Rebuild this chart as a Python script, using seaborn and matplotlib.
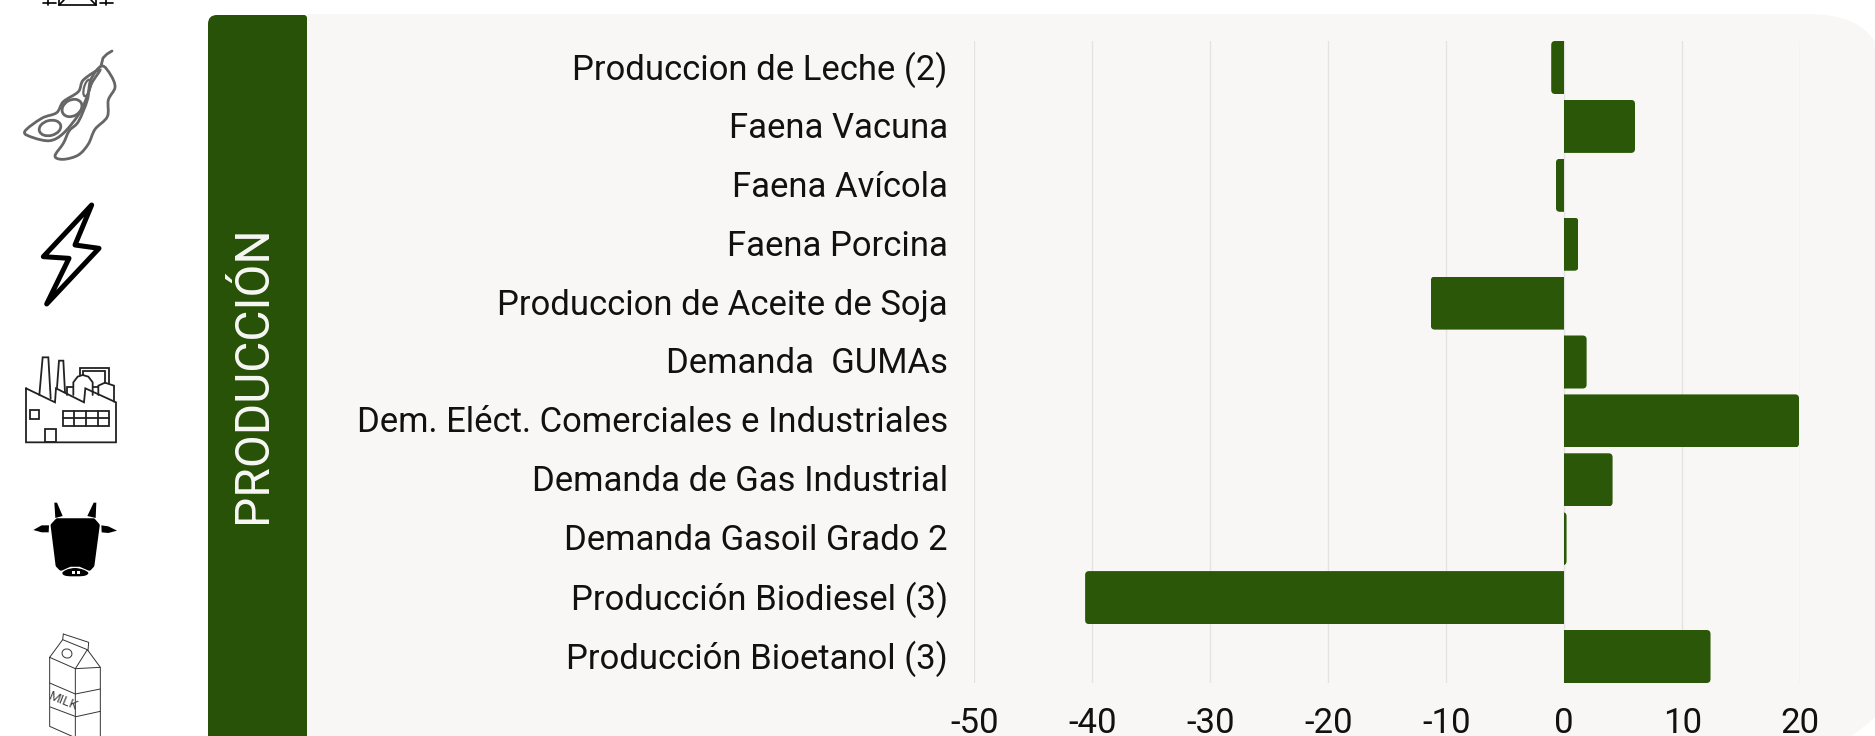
import matplotlib
matplotlib.use("Agg")
import matplotlib.pyplot as plt
import seaborn as sns
from matplotlib.patches import Ellipse, FancyBboxPatch, PathPatch, Polygon, Rectangle
from matplotlib.path import Path
from matplotlib.transforms import ScaledTranslation

# Data
categories = [
    "Produccion de Leche (2)", "Faena Vacuna", "Faena Avícola", "Faena Porcina",
    "Produccion de Aceite de Soja", "Demanda  GUMAs",
    "Dem. Eléct. Comerciales e Industriales", "Demanda de Gas Industrial",
    "Demanda Gasoil Grado 2", "Producción Biodiesel (3)", "Producción Bioetanol (3)",
]
values = [-1.1, 6.0, -0.7, 1.2, -11.3, 1.9, 19.9, 4.1, 0.2, -40.6, 12.4]
x_ticks = [-50, -40, -30, -20, -10, 0, 10, 20]
section_title = "PRODUCCIÓN"

GREEN = "#275207"
BAR = "#2A5708"
PANEL = "#F8F7F5"
W, H = 1875, 736

sns.set_theme(style="white")
plt.rcParams["font.family"] = ["Roboto", "DejaVu Sans"]
plt.rcParams["axes.unicode_minus"] = False

fig = plt.figure(figsize=(W / 100, H / 100), dpi=100, facecolor="white")

# Background layer in pixel coordinates (panel, band, icons)
bg = fig.add_axes([0, 0, 1, 1], zorder=0)
bg.set_xlim(0, W)
bg.set_ylim(H, 0)
bg.axis("off")


def smooth(points):
    # closed Catmull-Rom curve through the outline points
    n = len(points)
    verts = [points[0]]
    codes = [Path.MOVETO]
    for i in range(n):
        p0, p1, p2, p3 = points[i - 1], points[i], points[(i + 1) % n], points[(i + 2) % n]
        c1 = (p1[0] + (p2[0] - p0[0]) / 6, p1[1] + (p2[1] - p0[1]) / 6)
        c2 = (p2[0] - (p3[0] - p1[0]) / 6, p2[1] - (p3[1] - p1[1]) / 6)
        verts += [c1, c2, p2]
        codes += [Path.CURVE4, Path.CURVE4, Path.CURVE4]
    return Path(verts, codes)


def z1(points, dy=0):
    # outlines were measured on 3x crops
    return [(x / 3, y / 3 + dy) for x, y in points]


def lines(segments, color="#222222", lw=1.4):
    for seg in segments:
        bg.plot(*zip(*seg), color=color, lw=lw, solid_capstyle="round", solid_joinstyle="miter")


# Panel with rounded right corners
panel = Path(
    [(307, 14), (1808, 14), (1858, 14), (1875, 42), (1875, 717), (1865, 727), (1851, 736), (307, 736), (307, 14)],
    [Path.MOVETO, Path.LINETO, Path.CURVE3, Path.CURVE3, Path.LINETO, Path.CURVE3, Path.CURVE3, Path.LINETO, Path.CLOSEPOLY],
)
bg.add_patch(PathPatch(panel, fc=PANEL, ec="none"))

# Green band
band = Path(
    [(208, 24), (208, 15), (217, 15), (304, 15), (307, 15), (307, 18), (307, 736), (208, 736), (208, 24)],
    [Path.MOVETO, Path.CURVE3, Path.CURVE3, Path.LINETO, Path.CURVE3, Path.CURVE3, Path.LINETO, Path.LINETO, Path.CLOSEPOLY],
)
bg.add_patch(PathPatch(band, fc=GREEN, ec="none"))
bg.text(253, 374, section_title, rotation=90, ha="center", va="center", color=PANEL,
        fontsize=34.5, fontweight="normal")

# Icon cut off at the top
lines([[(59, 0), (59, 5), (96, 5), (96, 0)], [(59, 5), (64, 0)], [(96, 5), (91, 0)],
       [(43, 3), (56, 3)], [(48, 0), (48, 5)], [(100, 3), (113, 3)], [(106, 0), (106, 5)]], "black", 1.2)

# Soy pod
GREY = "#666666"
pod_right = z1([(305, 198), (332, 225), (345, 262), (325, 300), (322, 350), (285, 388), (265, 432), (235, 465),
                (190, 478), (165, 468), (190, 430), (208, 392), (235, 365), (262, 300), (272, 240)])
pod_left = z1([(300, 208), (250, 240), (235, 275), (190, 305), (170, 338), (125, 355), (74, 395), (100, 413),
               (150, 422), (190, 400), (235, 345), (258, 298), (275, 250)])
bg.add_patch(PathPatch(smooth(pod_right), fc="none", ec=GREY, lw=2.0))
bg.add_patch(PathPatch(smooth(pod_left), fc="none", ec=GREY, lw=2.0))
bg.plot([112, 107, 103, 101], [51, 54, 58, 66], color=GREY, lw=2.0)
bg.add_patch(Ellipse((50, 128), 22, 15, angle=-15, fc="none", ec=GREY, lw=2.0))
bg.add_patch(Ellipse((72, 108), 21, 16, angle=-30, fc="none", ec=GREY, lw=2.0))
bg.add_patch(Ellipse((87, 88), 6, 17, angle=15, fc="none", ec=GREY, lw=1.6))

# Lightning bolt
bolt = z1([(275, 615), (225, 735), (297, 745), (140, 912), (207, 775), (130, 770)])
bg.add_patch(Polygon(bolt, closed=True, fc="none", ec="black", lw=3.6, joinstyle="round"))

# Factory
def fac(points):
    return [(x / 3 + 10, y / 3 + 345) for x, y in points]


lines([fac(s) for s in [
    [(48, 130), (135, 172), (138, 130), (222, 172), (226, 130), (318, 172), (318, 292), (48, 292), (48, 130)],
    [(88, 150), (98, 37), (115, 37), (122, 160)],
    [(141, 128), (147, 47), (160, 47), (165, 142)],
    [(172, 150), (172, 126), (190, 126)],
    [(190, 150), (190, 112), (203, 95), (218, 90), (235, 95), (248, 112), (248, 150)],
    [(210, 90), (210, 68), (298, 68), (298, 115)],
    [(220, 90), (220, 78), (286, 78), (286, 115)],
    [(265, 150), (265, 122), (285, 113), (312, 122), (312, 170)],
    [(250, 125), (265, 125)],
]], "#222222", 1.3)
for rect in [(59, 194, 27, 27), (104, 253, 33, 39), (158, 198, 140, 44)]:
    bg.add_patch(Rectangle((rect[0] / 3 + 10, rect[1] / 3 + 345), rect[2] / 3, rect[3] / 3,
                           fc="none", ec="#222222", lw=1.3))
lines([fac(s) for s in [[(158, 220), (298, 220)], [(193, 198), (193, 242)], [(228, 198), (228, 242)], [(263, 198), (263, 242)]]],
      "#222222", 1.3)

# Cow head
cow_face = z1([(172, 457), (280, 457), (293, 472), (277, 592), (268, 602), (240, 590), (210, 590), (183, 602), (173, 592), (158, 472)], 368)
bg.add_patch(Polygon(cow_face, closed=True, fc="black", ec="black", lw=3.0, joinstyle="round"))
for horn in [[(163, 404), (171, 404), (188, 444), (166, 450)], [(289, 404), (281, 404), (262, 444), (287, 450)],
             [(100, 486), (125, 472), (147, 472), (146, 493), (125, 493)], [(351, 488), (325, 475), (304, 472), (305, 493), (325, 495)]]:
    bg.add_patch(Polygon(z1(horn, 368), closed=True, fc="black", ec="none"))
muzzle = z1([(187, 615), (200, 605), (225, 600), (250, 605), (265, 615), (250, 624), (200, 624)], 368)
bg.add_patch(PathPatch(smooth(muzzle), fc="black", ec="none"))
for nx in [215, 232]:
    bg.add_patch(Rectangle((nx / 3, 608 / 3 + 368), 3, 3, fc="white", ec="none"))

# Milk carton
milk = [
    [(149, 868), (149, 1075), (228, 1110)], [(149, 868), (226, 902), (226, 1110)],
    [(226, 902), (301, 898), (301, 1110)], [(226, 902), (262, 845), (301, 898)],
    [(149, 868), (188, 815), (262, 845)], [(190, 798), (266, 823), (264, 848)],
    [(190, 798), (188, 815)], [(149, 945), (226, 978), (301, 963)], [(151, 1017), (228, 1046), (301, 1030)],
]
lines([z1(s, 368) for s in milk], "#333333", 0.7)
bg.add_patch(Ellipse((67, 653.5), 10, 9, angle=20, fc="none", ec="#333333", lw=0.7))
bg.text(63, 701, "MILK", rotation=-22, rotation_mode="anchor", ha="center", va="center", fontsize=9.5,
        fontweight="normal", color="#444444")

# Chart
ax = fig.add_axes([974.2 / W, 1 - 683 / H, (1800 - 974) / W, (683 - 41) / H], zorder=2)
ax.patch.set_alpha(0)
sns.barplot(x=values, y=categories, orient="h", color=BAR, saturation=1, width=0.9, ax=ax, zorder=3)
ax.set_xlim(x_ticks[0], x_ticks[-1])
ax.set_ylim(len(categories) - 0.55, -0.45)
ax.set_xticks(x_ticks)
ax.grid(axis="x", color="#E3E3E1", lw=1.0, zorder=1)
ax.grid(axis="y", visible=False)
ax.set_axisbelow(True)
sns.despine(ax=ax, left=True, bottom=True, right=True, top=True)
ax.tick_params(axis="x", length=0, pad=17, labelsize=25, labelcolor="#111111")
ax.tick_params(axis="y", length=0, pad=19, labelsize=24.9, labelcolor="#111111")
for lbl in ax.get_yticklabels():
    lbl.set_transform(lbl.get_transform() + ScaledTranslation(0, 1.5 / 100, fig.dpi_scale_trans))

# Round the outer end of every bar
r = 4 / 11.8
for bar in list(ax.patches):
    x0, x1 = sorted([bar.get_x(), bar.get_x() + bar.get_width()])
    y0, h = bar.get_y(), bar.get_height()
    left = x0
    if x0 < 0:
        x1 = x1 + 2 * r
    else:
        left = x0 - 2 * r
    rounded = FancyBboxPatch((left, y0), x1 - left, h, boxstyle=f"round,pad=0,rounding_size={r}",
                             mutation_aspect=0.2, fc=BAR, ec="none", zorder=3)
    ax.add_patch(rounded)
    rounded.set_clip_path(bar)
    bar.set_visible(False)

fig.savefig("out.png", dpi=100)
